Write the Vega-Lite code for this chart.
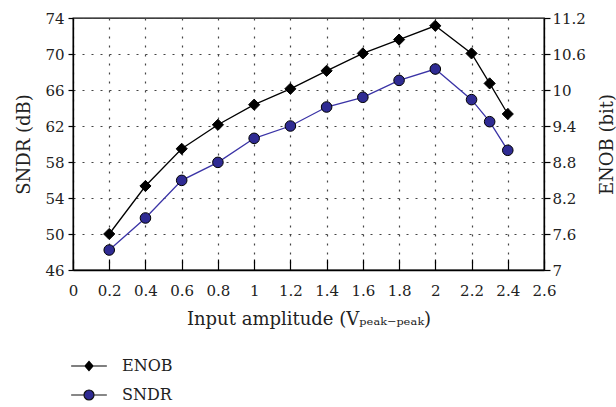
{
  "$schema": "https://vega.github.io/schema/vega-lite/v6.json",
  "width": 471,
  "height": 252,
  "autosize": "none",
  "padding": {"left": 73, "top": 18, "right": 72, "bottom": 137},
  "config": {
    "font": "DejaVu Serif",
    "view": {"stroke": "black", "strokeWidth": 1.3},
    "axis": {
      "labelFont": "DejaVu Serif",
      "titleFont": "DejaVu Serif",
      "labelFontSize": 15,
      "titleFontSize": 18,
      "titleFontWeight": "normal",
      "labelColor": "#222",
      "titleColor": "#222",
      "domainColor": "black",
      "domainWidth": 1.3,
      "tickColor": "black",
      "tickWidth": 1.2,
      "gridColor": "#444",
      "gridOpacity": 1,
      "gridDash": [2, 7],
      "gridWidth": 1.2
    },
    "legend": {
      "labelFont": "DejaVu Serif",
      "labelFontSize": 16,
      "labelColor": "#222"
    }
  },
  "data": {
    "values": [
      {"amp": 0.2, "series": "ENOB", "value": 7.6},
      {"amp": 0.4, "series": "ENOB", "value": 8.4},
      {"amp": 0.6, "series": "ENOB", "value": 9.02},
      {"amp": 0.8, "series": "ENOB", "value": 9.42},
      {"amp": 1.0, "series": "ENOB", "value": 9.755},
      {"amp": 1.2, "series": "ENOB", "value": 10.02},
      {"amp": 1.4, "series": "ENOB", "value": 10.32},
      {"amp": 1.6, "series": "ENOB", "value": 10.61},
      {"amp": 1.8, "series": "ENOB", "value": 10.84},
      {"amp": 2.0, "series": "ENOB", "value": 11.07},
      {"amp": 2.2, "series": "ENOB", "value": 10.61},
      {"amp": 2.3, "series": "ENOB", "value": 10.11},
      {"amp": 2.4, "series": "ENOB", "value": 9.6},
      {"amp": 0.2, "series": "SNDR", "value": 48.22},
      {"amp": 0.4, "series": "SNDR", "value": 51.78},
      {"amp": 0.6, "series": "SNDR", "value": 55.96},
      {"amp": 0.8, "series": "SNDR", "value": 57.96},
      {"amp": 1.0, "series": "SNDR", "value": 60.63},
      {"amp": 1.2, "series": "SNDR", "value": 62.0},
      {"amp": 1.4, "series": "SNDR", "value": 64.11},
      {"amp": 1.6, "series": "SNDR", "value": 65.19},
      {"amp": 1.8, "series": "SNDR", "value": 67.07},
      {"amp": 2.0, "series": "SNDR", "value": 68.33},
      {"amp": 2.2, "series": "SNDR", "value": 64.93},
      {"amp": 2.3, "series": "SNDR", "value": 62.48},
      {"amp": 2.4, "series": "SNDR", "value": 59.3}
    ]
  },
  "encoding": {
    "x": {
      "field": "amp",
      "type": "quantitative",
      "scale": {"domain": [0, 2.6], "nice": false, "zero": false},
      "axis": {
        "values": [0, 0.2, 0.4, 0.6, 0.8, 1, 1.2, 1.4, 1.6, 1.8, 2, 2.2, 2.4, 2.6],
        "format": ".1~f",
        "title": "Input amplitude (Vₚₑₐₖ₋ₚₑₐₖ)",
        "tickSize": -11,
        "labelPadding": 24,
        "labelFlush": false,
        "titlePadding": 12,
        "grid": true
      }
    }
  },
  "layer": [
    {
      "transform": [{"filter": "datum.series === 'SNDR'"}],
      "encoding": {
        "y": {
          "field": "value",
          "type": "quantitative",
          "scale": {"domain": [46, 74], "nice": false, "zero": false},
          "axis": {
            "orient": "left",
            "values": [46, 50, 54, 58, 62, 66, 70, 74],
            "title": "SNDR (dB)",
            "tickSize": 5,
            "labelPadding": 4,
            "labelFlush": false,
            "titlePadding": 11,
            "grid": true
          }
        }
      },
      "layer": [
        {"mark": {"type": "line", "stroke": "#3a33a6", "strokeWidth": 1.3}},
        {"mark": {"type": "point", "shape": "circle", "filled": true, "fill": "#2f2b93", "stroke": "black", "strokeWidth": 1, "size": 112, "opacity": 1}},
        {
          "transform": [{"filter": "datum.amp < 0"}],
          "mark": {"type": "point", "filled": true, "strokeWidth": 1.2, "size": 100, "opacity": 1},
          "encoding": {
            "shape": {
              "field": "series",
              "type": "nominal",
              "scale": {
                "domain": ["ENOB", "SNDR"],
                "range": [
                  "M-3.57,0H-0.8M0.8,0H3.57M0,-0.9L0.8,0L0,0.9L-0.8,0Z",
                  "M-3.57,0H-1M1,0H3.57M-1,0A1,1,0,1,1,1,0A1,1,0,1,1,-1,0Z"
                ]
              },
              "legend": {
                "title": null,
                "orient": "none",
                "legendX": 0,
                "legendY": 340,
                "direction": "vertical",
                "padding": 0,
                "symbolSize": 100,
                "symbolOffset": 8,
                "labelOffset": 25,
                "rowPadding": 13,
                "symbolStrokeWidth": 1.2,
                "symbolOpacity": 1
              }
            },
            "fill": {
              "field": "series",
              "type": "nominal",
              "scale": {"domain": ["ENOB", "SNDR"], "range": ["black", "#2f2b93"]}
            },
            "stroke": {
              "field": "series",
              "type": "nominal",
              "scale": {"domain": ["ENOB", "SNDR"], "range": ["black", "#111111"]}
            }
          }
        }
      ]
    },
    {
      "transform": [{"filter": "datum.series === 'ENOB'"}],
      "encoding": {
        "y": {
          "field": "value",
          "type": "quantitative",
          "scale": {"domain": [7, 11.2], "nice": false, "zero": false},
          "axis": {
            "orient": "right",
            "values": [7, 7.6, 8.2, 8.8, 9.4, 10, 10.6, 11.2],
            "format": ".1~f",
            "title": "ENOB (bit)",
            "titleAngle": 270,
            "tickSize": 6,
            "labelPadding": 2,
            "labelFlush": false,
            "titlePadding": 31,
            "grid": false
          }
        }
      },
      "layer": [
        {"mark": {"type": "line", "stroke": "black", "strokeWidth": 1.3}},
        {"mark": {"type": "point", "shape": "diamond", "filled": true, "fill": "black", "stroke": "black", "strokeWidth": 1, "size": 125, "opacity": 1}}
      ]
    }
  ],
  "resolve": {"scale": {"y": "independent"}}
}
